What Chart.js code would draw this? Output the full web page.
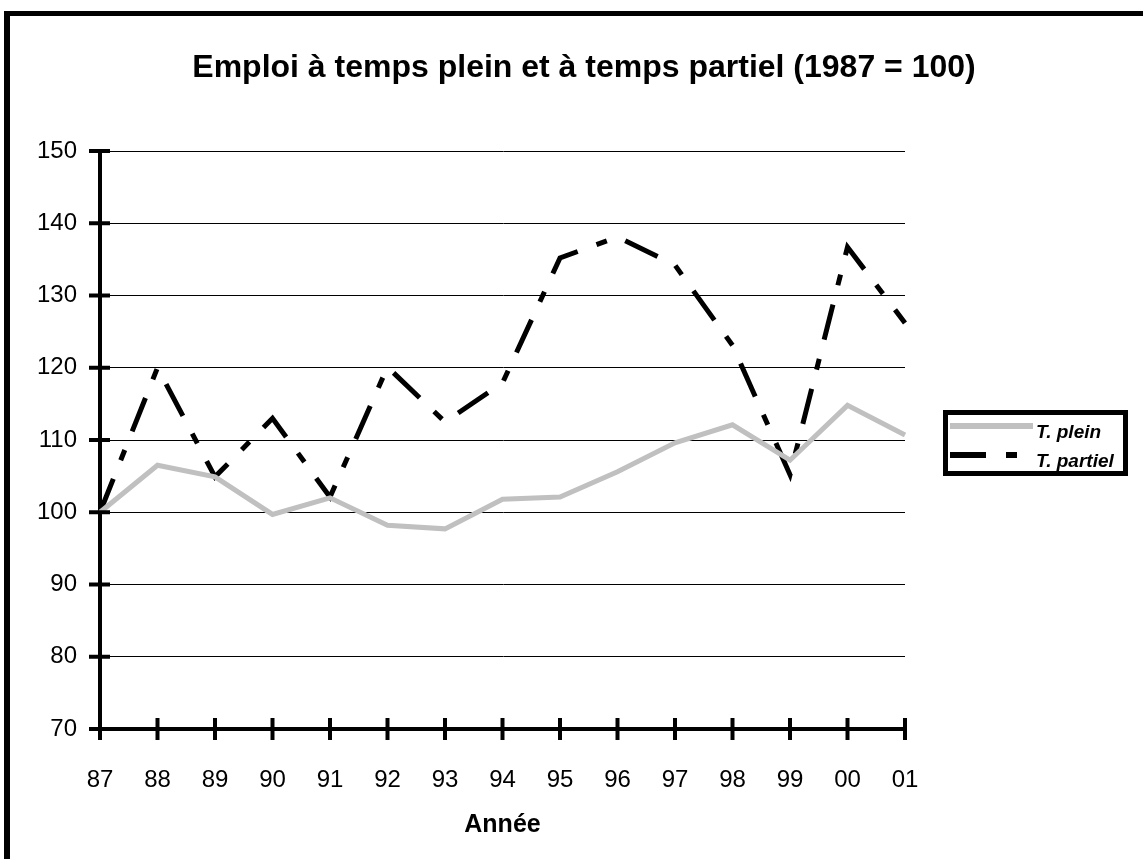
<!DOCTYPE html>
<html>
<head>
<meta charset="utf-8">
<script src="https://cdn.jsdelivr.net/npm/chart.js@4/dist/chart.umd.min.js"></script>
<style>
  html, body { margin: 0; padding: 0; background: #fff; overflow: hidden; }
  #frame { position: absolute; left: 4px; top: 11px; width: 1300px; height: 1000px;
           border-left: 6px solid #000; border-top: 5px solid #000; }
  #wrap { position: absolute; left: 0; top: 0; width: 1143px; height: 859px; }
</style>
</head>
<body>
<div id="frame"></div>
<div id="wrap"><canvas id="chart" width="1143" height="859"></canvas></div>
<script>
const years = ["87", "88", "89", "90", "91", "92", "93", "94", "95", "96", "97", "98", "99", "00", "01"];
const pleinValues = [100, 106.5, 104.9, 99.7, 102, 98.2, 97.7, 101.8, 102.1, 105.6, 109.6, 112.1, 107.2, 114.8, 110.7];
const partielValues = [100, 120, 104.9, 113, 102.1, 120.1, 112.5, 117.9, 135.2, 138.1, 134.2, 123.1, 105.2, 136.7, 126.2];
const yTicks = [70, 80, 90, 100, 110, 120, 130, 140, 150];

const titleText = "Emploi à temps plein et à temps partiel (1987 = 100)";
const FONT = "Liberation Sans, Arial, sans-serif";

// title, crossing tick marks and boxed legend
const decorations = {
  id: "decorations",
  afterDraw(chart) {
    const ctx = chart.ctx;
    const area = chart.chartArea;
    const xs = chart.scales.x, ys = chart.scales.y;
    ctx.save();
    ctx.fillStyle = "#000";
    ctx.font = "bold 32px " + FONT;
    ctx.textAlign = "center";
    ctx.textBaseline = "alphabetic";
    ctx.fillText(titleText, 584, 77);

    ctx.strokeStyle = "#000";
    ctx.lineWidth = 4;
    ctx.lineCap = "butt";
    yTicks.forEach(v => {
      const y = ys.getPixelForValue(v);
      ctx.beginPath();
      ctx.moveTo(area.left - 11, y);
      ctx.lineTo(area.left + 10, y);
      ctx.stroke();
    });
    years.forEach((_, i) => {
      const x = xs.getPixelForValue(i);
      ctx.beginPath();
      ctx.moveTo(x, area.bottom - 11);
      ctx.lineTo(x, area.bottom + 11);
      ctx.stroke();
    });

    // legend
    ctx.lineWidth = 5;
    ctx.strokeRect(945.5, 412.5, 180, 61);
    const ds = chart.data.datasets;
    const rows = [426, 455];
    ds.forEach((d, i) => {
      ctx.beginPath();
      ctx.strokeStyle = d.borderColor;
      ctx.lineWidth = d.borderWidth + 1;
      ctx.setLineDash(d.borderDash || []);
      ctx.moveTo(950, rows[i]);
      ctx.lineTo(1033, rows[i]);
      ctx.stroke();
      ctx.setLineDash([]);
      ctx.fillStyle = "#000";
      ctx.font = "italic bold 19px " + FONT;
      ctx.textAlign = "left";
      ctx.textBaseline = "alphabetic";
      ctx.fillText(d.label, 1036, rows[i] + 12);
    });
    ctx.restore();
  }
};

new Chart(document.getElementById("chart"), {
  type: "line",
  data: {
    labels: years,
    datasets: [
      {
        label: "T. plein",
        data: pleinValues,
        borderColor: "#c0c0c0",
        borderWidth: 5,
        pointRadius: 0,
        tension: 0,
        fill: false
      },
      {
        label: "T. partiel",
        data: partielValues,
        borderColor: "#000",
        borderWidth: 5,
        borderDash: [36, 20, 11, 20],
        pointRadius: 0,
        tension: 0,
        fill: false
      }
    ]
  },
  options: {
    responsive: false,
    animation: false,
    layout: { padding: { left: 10, right: 238, top: 151, bottom: 0 } },
    plugins: {
      legend: { display: false },
      title: { display: false },
      tooltip: { enabled: false }
    },
    scales: {
      x: {
        offset: false,
        grid: { display: false },
        border: { display: true, color: "#000", width: 4 },
        ticks: { color: "#000", font: { family: FONT, size: 24 }, padding: 29, maxRotation: 0 },
        title: { display: true, text: "Année", color: "#000", font: { family: FONT, size: 25, weight: "bold" }, padding: { top: 0, bottom: 19 } },
        afterFit(scale) { scale.height = 130; }
      },
      y: {
        min: 70,
        max: 150,
        afterBuildTicks(scale) { scale.ticks = yTicks.map(v => ({ value: v })); },
        grid: { color: "#000", lineWidth: 1, drawTicks: false },
        border: { display: true, color: "#000", width: 4 },
        ticks: { color: "#000", font: { family: FONT, size: 24 }, padding: 23 },
        afterFit(scale) { scale.width = 90; }
      }
    }
  },
  plugins: [decorations]
});
</script>
</body>
</html>
